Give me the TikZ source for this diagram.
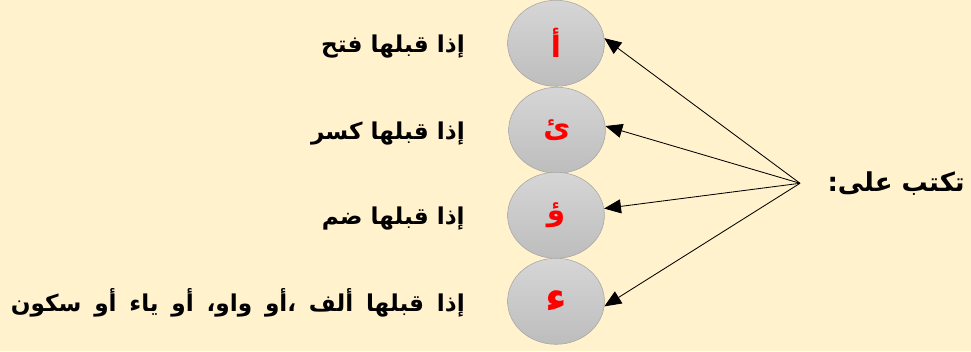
\documentclass[tikz,border=0pt]{standalone}
\usepackage{fontspec}
\usepackage{tikz}
\usetikzlibrary{arrows.meta,shapes.geometric}
\TeXXeTstate=1
\newfontfamily\arabicfont[Script=Arabic]{DejaVu Sans}
\definecolor{cream}{HTML}{FFF2CC}
\definecolor{rimgray}{HTML}{A6A6A6}
\definecolor{topgray}{HTML}{D6D6D6}
\definecolor{botgray}{HTML}{BDBDBD}
\tikzset{
	hamza/.style={ellipse, draw=rimgray, top color=topgray, bottom color=botgray,
		minimum width=2.42cm, minimum height=2.15cm, inner sep=0pt, text=red,
		font=\arabicfont\bfseries\fontsize{21}{24}\selectfont},
	rule/.style={anchor=east, inner sep=0pt, font=\arabicfont\bfseries\fontsize{16.5}{20}\selectfont},
	pointer/.style={semithick, -{Triangle[length=12pt,width=10pt]}}
}

\begin{document}
\begin{tikzpicture}[x=0.025cm,y=-0.025cm]
	\fill[cream] (0,0) rectangle (971,351);
	% the four forms of the hamza
	\node[hamza] (alif) at (556,43) {\beginR أ\endR};
	\node[hamza] (yaa) at (557,130) {\beginR ئ\endR};
	\node[hamza] (waw) at (556,215) {\beginR ؤ\endR};
	\node[hamza, font=\arabicfont\bfseries\fontsize{30}{34}\selectfont] (satr) at (556,301) {\beginR ء\endR};
	% rules
	\node[rule] (fath) at (465,46) {\beginR إذا قبلها فتح\endR};
	\node[rule] (kasr) at (465,133) {\beginR إذا قبلها كسر\endR};
	\node[rule] (damm) at (465,218) {\beginR إذا قبلها ضم\endR};
	\node[rule] (sukun) at (465,303) {\spaceskip=0.55em\relax\beginR إذا قبلها ألف ،أو واو، أو ياء أو سكون\endR};
	% title and arrows
	\coordinate (src) at (800,183);
	\node[anchor=east, inner sep=0pt, font=\arabicfont\bfseries\fontsize{18.5}{22}\selectfont] (title) at (965,183) {\beginR تكتب على:\endR};
	\draw[pointer] (src) -- (alif.6);
	\draw[pointer] (src) -- (yaa.5);
	\draw[pointer] (src) -- (waw.8);
	\draw[pointer] (src) -- (satr.-6);
\end{tikzpicture}
\end{document}
